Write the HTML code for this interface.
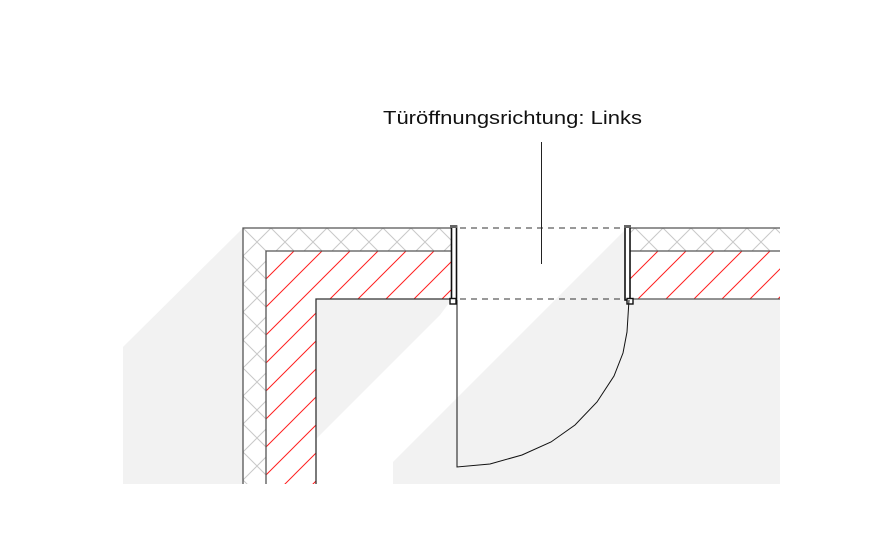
<!DOCTYPE html>
<html><head><meta charset="utf-8"><style>
html,body{margin:0;padding:0;background:#fff;}
svg{display:block;}
</style></head><body>
<svg width="892" height="550" viewBox="0 0 892 550" xmlns="http://www.w3.org/2000/svg">
<defs>
<pattern id="cross" patternUnits="userSpaceOnUse" width="28" height="28" x="243" y="228">
<path d="M0,0 L28,28 M28,0 L0,28" stroke="#c8c8c8" stroke-width="1" fill="none"/>
</pattern>
<pattern id="red" patternUnits="userSpaceOnUse" width="28" height="28" x="266" y="251">
<path d="M0,28 L28,0 M-7,7 L7,-7 M21,35 L35,21" stroke="#ff2020" stroke-width="1" fill="none"/>
</pattern>
</defs>
<g fill="#f2f2f2">
<polygon points="123,347 243,228 243,484 123,484"/>
<polygon points="316,299 452,299 440,315 316,439"/>
<polygon points="393,484 393,462 627,228 780,228 780,484"/>
</g>
<path d="M243,228 L453,228 L453,251 L266,251 L266,484 L243,484 Z" fill="url(#cross)"/>
<path d="M266,251 L453,251 L453,299 L316,299 L316,484 L266,484 Z" fill="#fff"/>
<path d="M266,251 L453,251 L453,299 L316,299 L316,484 L266,484 Z" fill="url(#red)"/>
<path d="M243,484 L243,228 L453,228" stroke="#555" stroke-width="1.3" fill="none"/>
<path d="M266,484 L266,251 L453,251" stroke="#555" stroke-width="1.3" fill="none"/>
<path d="M316,484 L316,299 L453,299" stroke="#333" stroke-width="1.3" fill="none"/>
<rect x="630" y="228" width="150" height="23" fill="#fff"/>
<rect x="630" y="228" width="150" height="23" fill="url(#cross)"/>
<rect x="630" y="251" width="150" height="48" fill="#fff"/>
<rect x="630" y="251" width="150" height="48" fill="url(#red)"/>
<path d="M630,228 L780,228 M630,251 L780,251 M630,299 L780,299" stroke="#555" stroke-width="1.3"/>
<rect x="451.5" y="226" width="5" height="74" fill="#fff" stroke="#111" stroke-width="1.6"/>
<rect x="450" y="225" width="7" height="3" fill="#666"/>
<rect x="450" y="298.5" width="6" height="5.5" fill="#fff" stroke="#111" stroke-width="1.4"/>
<rect x="625" y="226" width="5" height="74" fill="#fff" stroke="#111" stroke-width="1.6"/>
<rect x="624" y="225" width="7" height="3" fill="#666"/>
<rect x="627" y="298.5" width="6" height="5.5" fill="#fff" stroke="#111" stroke-width="1.4"/>
<path d="M460,228 L624,228 M460,299 L624,299" stroke="#333" stroke-width="1" stroke-dasharray="6,5"/>
<path d="M457,300 L457,467 L490,464 L522,455 L551,442 L575,425 L597,402 L614,376 L623,353 L627,332 L629,300" stroke="#111" stroke-width="1" fill="none"/>
<line x1="541.5" y1="142" x2="541.5" y2="264" stroke="#222" stroke-width="1"/>
<text x="383" y="124" font-family="Liberation Sans, sans-serif" font-size="18" fill="#111" textLength="259" lengthAdjust="spacingAndGlyphs">Türöffnungsrichtung: Links</text>
</svg>
</body></html>
